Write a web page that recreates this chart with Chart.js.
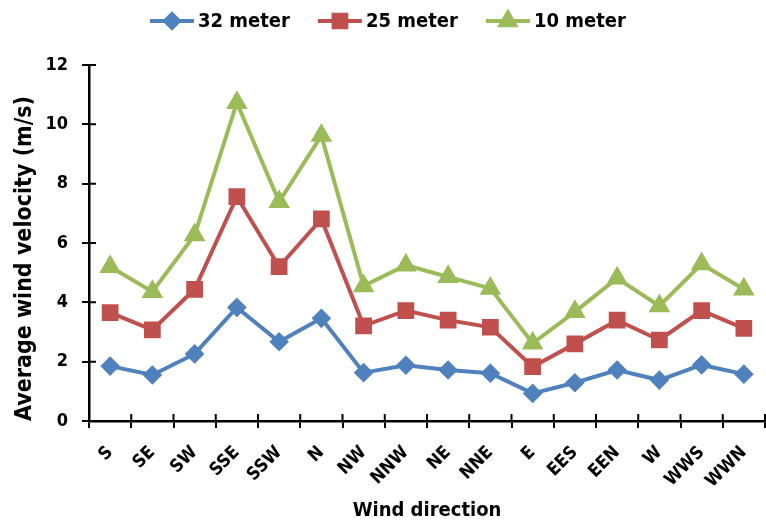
<!DOCTYPE html>
<html>
<head>
<meta charset="utf-8">
<script src="https://cdn.jsdelivr.net/npm/chart.js@4"></script>
<style>
  html, body { margin: 0; padding: 0; background: #fff; }
  #wrap { width: 766px; height: 523px; }
</style>
</head>
<body>
<div id="wrap"><canvas id="myChart"></canvas></div>
<script>
var directions = ['S', 'SE', 'SW', 'SSE', 'SSW', 'N', 'NW', 'NNW', 'NE', 'NNE', 'E', 'EES', 'EEN', 'W', 'WWS', 'WWN'];
var m32 = [1.85, 1.55, 2.26, 3.83, 2.67, 3.46, 1.63, 1.88, 1.72, 1.61, 0.93, 1.29, 1.72, 1.38, 1.89, 1.58];
var m25 = [3.65, 3.07, 4.44, 7.56, 5.2, 6.81, 3.21, 3.72, 3.4, 3.16, 1.83, 2.6, 3.4, 2.73, 3.72, 3.12];
var m10 = [5.2, 4.36, 6.27, 10.73, 7.39, 9.62, 4.55, 5.25, 4.86, 4.47, 2.62, 3.68, 4.81, 3.88, 5.29, 4.44];
var yTicks = [0, 2, 4, 6, 8, 10, 12];

var FONT = '"DejaVu Sans Condensed", "DejaVu Sans", sans-serif';

// legend drawn as line + marker, like the original
var lineLegend = {
  id: 'lineLegend',
  afterDraw: function (chart) {
    var ctx = chart.ctx;
    var y = 21;
    var x = 150;
    ctx.save();
    ctx.font = 'bold 20px ' + FONT;
    ctx.textBaseline = 'middle';
    chart.data.datasets.forEach(function (ds) {
      ctx.strokeStyle = ds.borderColor;
      ctx.fillStyle = ds.borderColor;
      ctx.lineWidth = 4;
      ctx.beginPath();
      ctx.moveTo(x, y);
      ctx.lineTo(x + 44, y);
      ctx.stroke();
      Chart.helpers.drawPoint(ctx, {
        pointStyle: ds.pointStyle, radius: ds.pointRadius, borderWidth: 1
      }, x + 22, y);
      ctx.fillStyle = '#000';
      ctx.fillText(ds.label, x + 48, y + 1);
      x += 48 + ctx.measureText(ds.label).width + 28;
    });
    ctx.restore();
  }
};

// short tick marks on the inner side of both axes
var innerTicks = {
  id: 'innerTicks',
  afterDraw: function (chart) {
    var ctx = chart.ctx;
    var xs = chart.scales.x, ys = chart.scales.y;
    ctx.save();
    ctx.strokeStyle = '#000';
    ctx.lineWidth = 2;
    ctx.beginPath();
    ys.ticks.forEach(function (t) {
      var py = ys.getPixelForValue(t.value);
      ctx.moveTo(xs.left, py);
      ctx.lineTo(xs.left + 7, py);
    });
    var half = (xs.getPixelForTick(1) - xs.getPixelForTick(0)) / 2;
    for (var i = 0; i <= directions.length; i++) {
      var px = i < directions.length ? xs.getPixelForTick(i) - half : xs.getPixelForTick(i - 1) + half;
      ctx.moveTo(px, ys.bottom);
      ctx.lineTo(px, ys.bottom - 7);
    }
    ctx.stroke();
    ctx.restore();
  }
};

function series(label, data, color, style, r) {
  return {
    label: label,
    data: data,
    borderColor: color,
    backgroundColor: color,
    pointBackgroundColor: color,
    pointBorderColor: color,
    borderWidth: 4,
    pointStyle: style,
    pointRadius: r,
    pointHoverRadius: r,
    tension: 0
  };
}

var ctx = document.getElementById('myChart').getContext('2d');
var myChart = new Chart(ctx, {
  type: 'line',
  data: {
    labels: directions,
    datasets: [
      series('32 meter', m32, '#4F81BD', 'rectRot', 7),
      series('25 meter', m25, '#C0504D', 'rect', 9),
      series('10 meter', m10, '#9BBB59', 'triangle', 8.5)
    ]
  },
  options: {
    responsive: true,
    maintainAspectRatio: false,
    animation: false,
    layout: { autoPadding: false, padding: { top: 65, right: 1, left: 11, bottom: 0 } },
    plugins: {
      legend: { display: false },
      tooltip: { enabled: false }
    },
    scales: {
      x: {
        offset: true,
        afterFit: function (scale) {
          // rotated labels hang to the left, no room needed on the right
          scale.paddingRight = 0;
          scale.height = 102;
        },
        grid: {
          offset: true,
          drawOnChartArea: false,
          color: '#000',
          lineWidth: 2,
          tickLength: 7
        },
        border: { color: '#000', width: 2.5 },
        ticks: {
          color: '#000',
          font: { family: FONT, size: 18, weight: 'bold' },
          minRotation: 45,
          maxRotation: 45,
          autoSkip: false,
          padding: 14
        },
        title: {
          display: true,
          text: 'Wind direction',
          color: '#000',
          font: { family: FONT, size: 20, weight: 'bold' },
          padding: { top: 1, bottom: 0 }
        }
      },
      y: {
        min: 0,
        max: 12,
        afterBuildTicks: function (axis) {
          axis.ticks = yTicks.map(function (v) { return { value: v }; });
        },
        afterFit: function (scale) {
          scale.width = 78;
        },
        grid: {
          drawOnChartArea: false,
          color: '#000',
          lineWidth: 2,
          tickLength: 7
        },
        border: { color: '#000', width: 2.5 },
        ticks: {
          color: '#000',
          font: { family: FONT, size: 18, weight: 'bold' },
          padding: 14
        },
        title: {
          display: true,
          align: 'start',
          text: 'Average wind velocity (m/s)',
          color: '#000',
          font: { family: FONT, size: 23, weight: 'bold' },
          padding: { top: 0, bottom: 0 }
        }
      }
    }
  },
  plugins: [lineLegend, innerTicks]
});
</script>
</body>
</html>
